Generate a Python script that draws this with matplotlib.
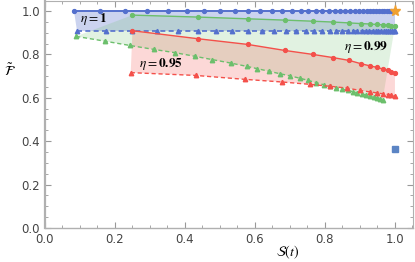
import matplotlib
matplotlib.use("Agg")
import matplotlib.pyplot as plt
from matplotlib.ticker import MultipleLocator

plt.rcParams["mathtext.fontset"] = "stix"

# eta = 1
blue_circ_x = [0.083, 0.157, 0.229, 0.291, 0.351, 0.405, 0.454, 0.500, 0.543, 0.579,
               0.614, 0.648, 0.677, 0.705, 0.731, 0.751, 0.774, 0.793, 0.811, 0.829,
               0.843, 0.858, 0.872, 0.885, 0.897, 0.908, 0.919, 0.929, 0.938, 0.947,
               0.955, 0.963, 0.970, 0.977, 0.983, 0.989, 0.995, 1.0]
blue_circ_y = [1.0] * len(blue_circ_x)
blue_tri_x = [0.092, 0.174, 0.250, 0.319, 0.381, 0.438, 0.490, 0.535, 0.581, 0.620,
              0.655, 0.688, 0.718, 0.745, 0.770, 0.793, 0.814, 0.833, 0.850, 0.866,
              0.880, 0.893, 0.905, 0.916, 0.926, 0.936, 0.945, 0.953, 0.961, 0.968,
              0.975, 0.981, 0.987, 0.992, 0.996, 1.0]
blue_tri_y = [0.909] * len(blue_tri_x)

# eta = 0.99
green_circ_x = [0.250, 0.438, 0.579, 0.686, 0.765, 0.824, 0.870, 0.903, 0.929, 0.949,
                0.967, 0.980, 0.990, 1.0]
green_circ_y = [0.981, 0.972, 0.964, 0.958, 0.953, 0.949, 0.945, 0.942, 0.940, 0.938,
                0.936, 0.934, 0.932, 0.930]
green_tri_x = [0.089, 0.171, 0.243, 0.311, 0.371, 0.429, 0.478, 0.531, 0.576, 0.607,
               0.641, 0.671, 0.700, 0.729, 0.752, 0.774, 0.797, 0.815, 0.833, 0.850,
               0.865, 0.880, 0.893, 0.906, 0.918, 0.930, 0.940, 0.950, 0.958, 0.965]
green_tri_y = [0.883, 0.861, 0.841, 0.823, 0.808, 0.791, 0.776, 0.760, 0.745, 0.734,
               0.722, 0.711, 0.701, 0.690, 0.680, 0.670, 0.660, 0.653, 0.646, 0.640,
               0.634, 0.628, 0.623, 0.618, 0.613, 0.607, 0.603, 0.599, 0.596, 0.592]

# eta = 0.95
red_circ_x = [0.250, 0.438, 0.579, 0.686, 0.765, 0.824, 0.870, 0.903, 0.929, 0.949,
              0.967, 0.980, 0.990, 1.0]
red_circ_y = [0.909, 0.872, 0.846, 0.818, 0.800, 0.785, 0.772, 0.757, 0.747, 0.740,
              0.732, 0.726, 0.720, 0.714]
red_tri_x = [0.245, 0.431, 0.571, 0.676, 0.757, 0.814, 0.862, 0.900, 0.929, 0.950,
             0.967, 0.980, 0.990, 1.0]
red_tri_y = [0.716, 0.703, 0.685, 0.673, 0.662, 0.653, 0.645, 0.634, 0.627, 0.622,
             0.618, 0.615, 0.612, 0.608]

star_pt = (1.0, 1.0)
square_pt = (1.0, 0.366)

BLUE = "#5470cd"
GREEN = "#6cbf6c"
RED = "#f4504a"

fig = plt.figure(figsize=(4.15, 2.62), dpi=100)
ax = fig.add_axes([0.1084, 0.1298, 0.8866, 0.868])


def band(xa, ya, xb, yb, color, alpha):
    px = list(xa) + list(xb)[::-1]
    py = list(ya) + list(yb)[::-1]
    ax.fill(px, py, color=color, alpha=alpha, lw=0)


band(blue_circ_x, blue_circ_y, blue_tri_x, blue_tri_y, BLUE, 0.3)
band(green_circ_x, green_circ_y, green_tri_x, green_tri_y, GREEN, 0.2)
band(red_circ_x, red_circ_y, red_tri_x, red_tri_y, RED, 0.22)

ax.plot(blue_circ_x, blue_circ_y, "-o", color=BLUE, ms=2.8, lw=1.4)
ax.plot(blue_tri_x, blue_tri_y, "--^", color=BLUE, ms=3.2, lw=1.2, dashes=(3, 2))
ax.plot(green_circ_x, green_circ_y, "-o", color=GREEN, ms=2.8, lw=1.0)
ax.plot(green_tri_x, green_tri_y, "--^", color=GREEN, ms=3.2, lw=1.0, dashes=(3, 2))
ax.plot(red_circ_x, red_circ_y, "-o", color=RED, ms=2.8, lw=1.0)
ax.plot(red_tri_x, red_tri_y, "--^", color=RED, ms=3.2, lw=1.0, dashes=(3, 2))

ax.plot(*star_pt, marker="*", color="#f0a030", ms=8, ls="none", zorder=5)
ax.plot(*square_pt, marker="s", color="#5b84c4", ms=4, ls="none")

ax.text(0.10, 0.961, r"$\eta = \mathbf{1}$", fontsize=9.5, va="center")
ax.text(0.268, 0.757, r"$\eta = \mathbf{0.95}$", fontsize=9.5, va="center")
ax.text(0.855, 0.834, r"$\eta = \mathbf{0.99}$", fontsize=9.5, va="center")

ax.set_xlim(0, 1.0514)
ax.set_ylim(0, 1.048)
ax.xaxis.set_major_locator(MultipleLocator(0.2))
ax.yaxis.set_major_locator(MultipleLocator(0.2))
ax.xaxis.set_minor_locator(MultipleLocator(0.05))
ax.yaxis.set_minor_locator(MultipleLocator(0.05))
ax.tick_params(which="both", direction="in", top=True, right=True,
               color="#999999", labelcolor="#444444", labelsize=8.5)
ax.tick_params(which="major", length=4)
ax.tick_params(which="minor", length=2)
ax.xaxis.set_major_formatter(lambda v, p: f"{v:.1f}")
ax.yaxis.set_major_formatter(lambda v, p: f"{v:.1f}")
for s in ax.spines.values():
    s.set_color("#b0b0b0")
ax.spines["left"].set_linewidth(1.6)
ax.spines["bottom"].set_linewidth(1.0)

ax.set_xlabel(r"$\mathcal{S}(t)$", fontsize=10)
ax.xaxis.set_label_coords(0.66, -0.07)
ax.set_ylabel(r"$\tilde{\mathcal{F}}$", fontsize=10, rotation=0, va="center", ha="center")
ax.yaxis.set_label_coords(-0.095, 0.69)

fig.savefig("out.png", dpi=100)
